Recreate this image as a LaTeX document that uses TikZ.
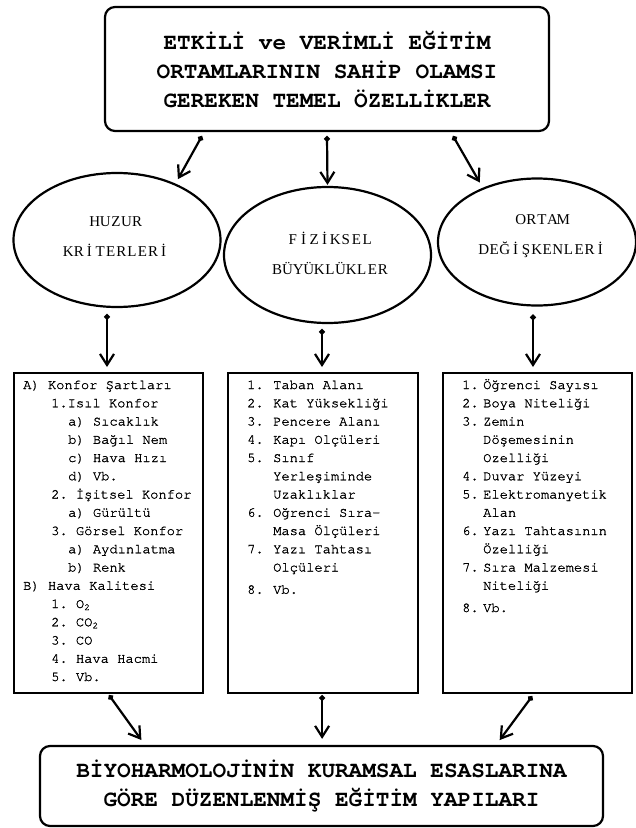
\documentclass[tikz,border=0pt]{standalone}
\usepackage{fontspec}
\setmainfont{Liberation Serif}
\newfontfamily\monof{texgyrecursor}[Extension=.otf,UprightFont=*-regular,BoldFont=*-bold]
\newfontfamily\listf{texgyrecursor-regular.otf}[FakeBold=1.2]
\usetikzlibrary{shapes.geometric,arrows.meta,calc}
\newcommand\mkc[1]{\makebox[10.6bp][c]{#1}}
\def\monoloop#1{\ifx\relax#1\else\mkc{#1}\expandafter\monoloop\fi}
\newcommand\spaced[1]{\monoloop#1\relax}
\newcommand\nbx[2]{\makebox[#1][l]{#2}}
\frenchspacing
\begin{document}
\begin{tikzpicture}[x=1bp,y=-1bp,
  tbox/.style={draw, line width=2.2bp, rounded corners=10bp, inner sep=0, align=center,
    font=\monof\bfseries\fontsize{22.7bp}{29bp}\selectfont},
  ell/.style={draw, ellipse, line width=2.2bp, inner sep=0},
  elltxt/.style={align=center, inner sep=0, font=\fontsize{15bp}{30bp}\selectfont},
  lbox/.style={draw, line width=2.2bp, inner sep=0, anchor=north west, minimum height=320bp},
  ltxt/.style={inner sep=0, anchor=base west, font=\listf\fontsize{13.75bp}{18.25bp}\selectfont},
  conn/.style={line width=2.2bp, {Circle[length=5.5bp]}-{Straight Barb[length=11bp,width=14bp]}}]
\useasboundingbox[fill=white] (0,0) rectangle (636,828);

% top box
\node[tbox, minimum width=444bp, minimum height=124bp] (top) at (327,69)
  {ETKİLİ ve VERİMLİ EĞİTİM\\ORTAMLARININ SAHİP OLAMSI\\GEREKEN TEMEL ÖZELLİKLER};

% ellipses
\node[ell, minimum width=207bp, minimum height=134bp] (e1) at (117,240) {};
\node[ell, minimum width=207bp, minimum height=136bp] (e2) at (327.5,255) {};
\node[ell, minimum width=198bp, minimum height=127bp] (e3) at (537,242) {};
\node[elltxt] (h1) at (116,237) {\spaced{HUZUR}\\\spaced{KRİTERLERİ}};
\node[elltxt] (h2) at (330,253.5) {\spaced{FİZİKSEL}\\\spaced{BÜYÜKLÜKLER}};
\node[elltxt] (h3) at (542,236) {\spaced{ORTAM}\\\spaced{DEĞİŞKENLERİ}};

% list boxes
\node[lbox, minimum width=189bp] (b1) at (13,372) {};
\node[lbox, minimum width=190bp] (b2) at (227,372) {};
\node[lbox, minimum width=189bp] (b3) at (442,372) {};

\node[ltxt] (l1) at (23,389) {\parbox[t]{178bp}{%
A) Konfor Şartları\\
\hspace*{28bp}1.Isıl Konfor\\
\hspace*{45bp}a) Sıcaklık\\
\hspace*{45bp}b) Bağıl Nem\\
\hspace*{45bp}c) Hava Hızı\\
\hspace*{45bp}d) Vb.\\
\hspace*{28bp}2. İşitsel Konfor\\
\hspace*{45bp}a) Gürültü\\
\hspace*{28bp}3. Görsel Konfor\\
\hspace*{45bp}a) Aydınlatma\\
\hspace*{45bp}b) Renk\\
B) Hava Kalitesi\\
\hspace*{28bp}1. O\textsubscript{2}\\
\hspace*{28bp}2. CO\textsubscript{2}\\
\hspace*{28bp}3. CO\\
\hspace*{28bp}4. Hava Hacmi\\
\hspace*{28bp}5. Vb.}};

\node[ltxt] (l2) at (247,389) {\parbox[t]{165bp}{%
\nbx{26bp}{1.}Taban Alanı\\
\nbx{26bp}{2.}Kat Yüksekliği\\
\nbx{26bp}{3.}Pencere Alanı\\
\nbx{26bp}{4.}Kapı Olçüleri\\
\nbx{26bp}{5.}Sınıf\\
\hspace*{26bp}Yerleşiminde\\
\hspace*{26bp}Uzaklıklar\\
\nbx{26bp}{6.}Oğrenci Sıra-\\
\hspace*{26bp}Masa Ölçüleri\\
\nbx{26bp}{7.}Yazı Tahtası\\
\hspace*{26bp}Olçüleri\\[4bp]
\nbx{26bp}{8.}Vb.}};

\node[ltxt] (l3) at (462,389) {\parbox[t]{165bp}{%
\nbx{21bp}{1.}Öğrenci Sayısı\\
\nbx{21bp}{2.}Boya Niteliği\\
\nbx{21bp}{3.}Zemin\\
\hspace*{21bp}Döşemesinin\\
\hspace*{21bp}Ozelliği\\
\nbx{21bp}{4.}Duvar Yüzeyi\\
\nbx{21bp}{5.}Elektromanyetik\\
\hspace*{21bp}Alan\\
\nbx{21bp}{6.}Yazı Tahtasının\\
\hspace*{21bp}Özelliği\\
\nbx{21bp}{7.}Sıra Malzemesi\\
\hspace*{21bp}Niteliği\\[4bp]
\nbx{21bp}{8.}Vb.}};

% bottom box
\node[tbox, minimum width=563bp, minimum height=80bp] (bot) at (321.5,786)
  {BİYOHARMOLOJİNİN KURAMSAL ESASLARINA\\GÖRE DÜZENLENMİŞ EĞİTİM YAPILARI};

% connectors: top box -> ellipses
\coordinate (s1) at ($(top.south west)+(98,4)$);
\coordinate (s2) at ($(top.south)+(0,4)$);
\coordinate (s3) at ($(top.south east)+(-97,4)$);
\draw[conn, shorten >=5bp] (s1) -- (e1.44);
\draw[conn, shorten >=1bp] (s2) -- (e2.north);
\draw[conn, shorten >=6bp] (s3) -- (e3.135);

% ellipses -> list boxes
\coordinate (d1) at ($(e1.south)+(-10,6)$);
\coordinate (d2) at ($(e2.south)+(-5.5,5)$);
\coordinate (d3) at ($(e3.south)+(-4,8)$);
\draw[conn, shorten >=5bp] (d1) -- (d1 |- b1.north);
\draw[conn, shorten >=5bp] (d2) -- (d2 |- b2.north);
\draw[conn, shorten >=5bp] (d3) -- (d3 |- b3.north);

% list boxes -> bottom box
\coordinate (u1) at ($(b1.south)+(0.5,1)$);
\coordinate (u2) at ($(b2.south)+(-1,1)$);
\coordinate (u3) at ($(b3.south)+(-5.5,2)$);
\draw[conn, shorten >=6bp] (u1) -- ($(bot.north west)+(106,0)$);
\draw[conn, shorten >=6bp] (u2) -- (u2 |- bot.north);
\draw[conn, shorten >=6bp] (u3) -- ($(bot.north east)+(-108,0)$);
\end{tikzpicture}
\end{document}
